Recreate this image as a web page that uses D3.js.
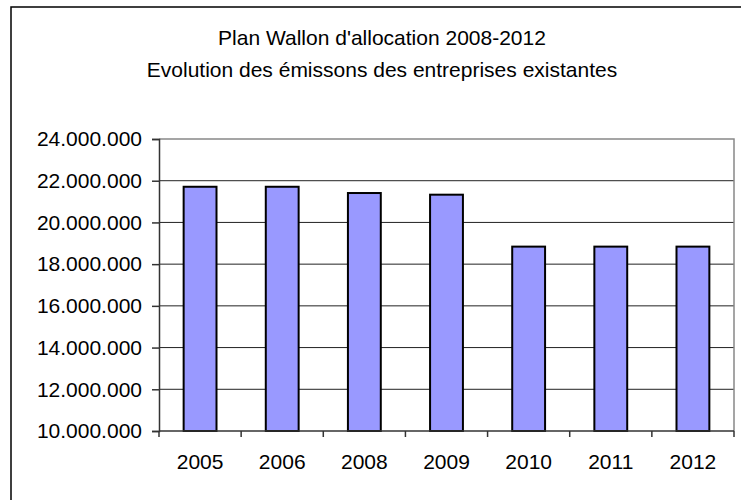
<!DOCTYPE html>
<html>
<head>
<meta charset="utf-8">
<script src="https://cdn.jsdelivr.net/npm/d3@7"></script>
<style>
  body { margin: 0; background: #fff; }
  text { font-family: "Liberation Sans", Arial, sans-serif; fill: #000; }
</style>
</head>
<body>
<svg id="chart" width="741" height="500"></svg>
<script>
const years = ["2005", "2006", "2008", "2009", "2010", "2011", "2012"];
const emissions = [21710000, 21710000, 21410000, 21330000, 18840000, 18840000, 18840000];
const yTicks = [10000000, 12000000, 14000000, 16000000, 18000000, 20000000, 22000000, 24000000];
const titleLines = ["Plan Wallon d'allocation 2008-2012", "Evolution des émissons des entreprises existantes"];

const svg = d3.select("#chart");
const plot = { left: 159, right: 734, top: 139, bottom: 431 };

// outer chart frame (runs off the right and bottom of the picture)
svg.append("rect")
  .attr("x", 11).attr("y", 7)
  .attr("width", 760).attr("height", 520)
  .attr("fill", "#fff")
  .attr("stroke", "#000")
  .attr("stroke-width", 1.5);

const x = d3.scaleBand()
  .domain(years)
  .range([plot.left, plot.right])
  .paddingInner(0.6)
  .paddingOuter(0.3);

const y = d3.scaleLinear()
  .domain([10000000, 24000000])
  .range([plot.bottom, plot.top]);

const fmt = d3.formatLocale({ decimal: ",", thousands: ".", grouping: [3], currency: ["", ""] }).format(",d");

// grid lines
svg.append("g")
  .selectAll("line")
  .data(yTicks.slice(1, -1))
  .join("line")
  .attr("x1", plot.left).attr("x2", plot.right)
  .attr("y1", d => y(d)).attr("y2", d => y(d))
  .attr("stroke", "#222")
  .attr("stroke-width", 1);

// plot border top/right in gray
svg.append("path")
  .attr("d", `M${plot.left},${plot.top}H${plot.right}V${plot.bottom}`)
  .attr("fill", "none")
  .attr("stroke", "#888")
  .attr("stroke-width", 1.5);

// bars
svg.append("g")
  .selectAll("rect")
  .data(years)
  .join("rect")
  .attr("x", d => x(d))
  .attr("y", (d, i) => y(emissions[i]))
  .attr("width", x.bandwidth())
  .attr("height", (d, i) => y(10000000) - y(emissions[i]))
  .attr("fill", "#9999ff")
  .attr("stroke", "#000")
  .attr("stroke-width", 2);

// y axis
const yAxis = svg.append("g")
  .attr("transform", `translate(${plot.left},0)`)
  .call(d3.axisLeft(y).tickValues(yTicks).tickFormat(fmt).tickSize(7).tickPadding(10));
yAxis.select(".domain").attr("stroke", "#333").attr("stroke-width", 1.5);
yAxis.selectAll(".tick line").attr("stroke", "#333").attr("stroke-width", 1.5);
yAxis.selectAll("text")
  .style("font-size", "21px")
  .style("font-family", "Liberation Sans, Arial, sans-serif")
  .attr("fill", "#000");

// x axis
const step = x.step();
const bounds = d3.range(years.length + 1).map(i => plot.left + i * step);
svg.append("line")
  .attr("x1", plot.left).attr("x2", plot.right)
  .attr("y1", plot.bottom).attr("y2", plot.bottom)
  .attr("stroke", "#333").attr("stroke-width", 1.5);
svg.append("g")
  .selectAll("line")
  .data(bounds)
  .join("line")
  .attr("x1", d => d).attr("x2", d => d)
  .attr("y1", plot.bottom).attr("y2", plot.bottom + 6)
  .attr("stroke", "#333").attr("stroke-width", 1.5);
svg.append("g")
  .selectAll("text")
  .data(years)
  .join("text")
  .attr("x", d => x(d) + x.bandwidth() / 2)
  .attr("y", 469)
  .attr("text-anchor", "middle")
  .style("font-size", "21px")
  .text(d => d);

// title
svg.append("g")
  .selectAll("text")
  .data(titleLines)
  .join("text")
  .attr("x", 382)
  .attr("y", (d, i) => 45 + i * 32)
  .attr("text-anchor", "middle")
  .style("font-size", "21px")
  .text(d => d);
</script>
</body>
</html>
